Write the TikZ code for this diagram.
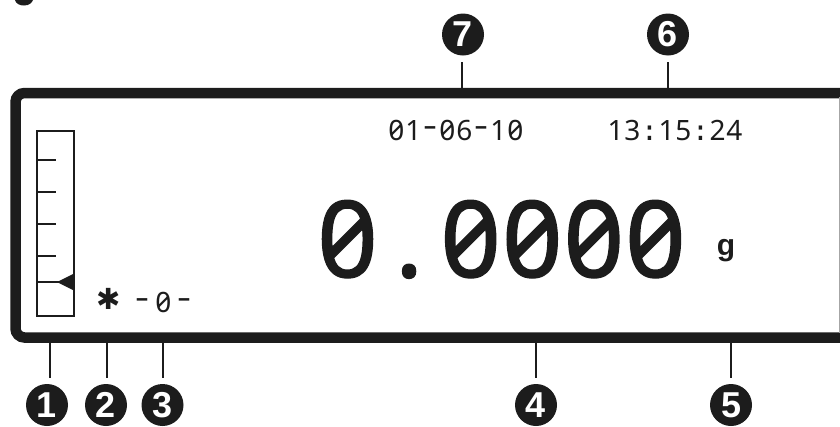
\documentclass[tikz,border=0pt]{standalone}
\usepackage{graphicx}
\usepackage{fontspec}
\setsansfont{Liberation Sans}
\newfontfamily\lcdfont[RawFeature=+zero]{Noto Sans}
\newfontfamily\lcdboldfont[RawFeature=+zero,FakeBold=1.2]{Noto Sans}
\newfontfamily\monofont{DejaVu Sans Mono}
\newfontfamily\symbfont{DejaVu Sans}
\definecolor{ink}{HTML}{1C1C1C}
\newlength\cellw
\def\lcd#1{\lcdi#1\relax}
\def\lcdi#1{\ifx#1\relax\else\lcdcell{#1}\expandafter\lcdi\fi}
\def\lcdcell#1{\makebox[\cellw][c]{\if#1-\raisebox{0.11em}{\scalebox{1.55}[1.15]{-}}\else\if#1:\monofont:\else#1\fi\fi}}
\newcommand\calloutfont{\sffamily\bfseries\fontsize{36}{36}\selectfont}
\newcommand\biglcd{\lcdboldfont\fontsize{106}{106}\selectfont\setlength\cellw{61.6pt}}
\newcommand\smalllcd{\lcdfont\fontsize{28}{28}\selectfont\setlength\cellw{17pt}}
\newcommand\flaglcd{\lcdfont\fontsize{28}{28}\selectfont\setlength\cellw{21pt}}
\begin{document}
\begin{tikzpicture}[x=1pt,y=-1pt,
  callout/.style={circle, fill=ink, text=white, minimum size=42pt, inner sep=0pt, font=\calloutfont},
  lead/.style={draw=ink, line width=2pt, shorten >=6pt},
  frameline/.style={draw=ink, line width=10.5pt},
  gauge/.style={draw=ink, line width=2pt},
  lcd/.style={text=ink, inner sep=0pt, anchor=base}]
\useasboundingbox (0,0) rectangle (840,426);
% cut-off fragment at top left
\fill[ink] (15,0) .. controls (16,4) and (20,5.5) .. (24,5.5) .. controls (29,5.5) and (32,3) .. (33,0) -- cycle;
% display frame
\draw[frameline, rounded corners=9pt] (850,93) -- (15.5,93) -- (15.5,337.5) -- (850,337.5);
\draw[gray!70, line width=1pt] (839,97) -- (839,333);
% bar graph
\draw[gauge] (37,131) rectangle (74,316);
\foreach \yy in {160,192,224,256} \draw[gauge] (37,\yy) -- (56,\yy);
\draw[gauge] (37,282) -- (60,282);
\fill[ink] (57,282) -- (74,273.5) -- (74,290.5) -- cycle;
% texts
\node[lcd, anchor=center, font=\symbfont\fontsize{29}{29}\selectfont] (star) at (109,298.5) {✱};
\node[lcd, font=\flaglcd] (zero) at (163.3,312) {\lcd{-0-}};
\node[lcd, font=\smalllcd] (date) at (456,140) {\lcd{01-06-10}};
\node[lcd, font=\smalllcd] (time) at (675,140) {\lcd{13:15:24}};
\node[lcd, font=\biglcd] (weight) at (501.5,277) {\lcd{0.0000}};
\node[lcd, font=\sffamily\bfseries\fontsize{30}{30}\selectfont] (unit) at (726,255) {g};
% callouts
\node[callout] (c1) at (47,405) {1};
\node[callout] (c2) at (106,405) {2};
\node[callout] (c3) at (162.5,405) {3};
\node[callout] (c4) at (536,405) {4};
\node[callout] (c5) at (731,405) {5};
\node[callout] (c6) at (668,34.5) {6};
\node[callout] (c7) at (463,34.5) {7};
\coordinate (f1) at (50,343);
\coordinate (f2) at (107,343);
\coordinate (f3) at (163,343);
\coordinate (f4) at (536,343);
\coordinate (f5) at (731,343);
\coordinate (f6) at (668,88);
\coordinate (f7) at (462,88);
\foreach \k in {1,2,3,4,5} \draw[lead] (f\k) -- (f\k |- c\k.north);
\foreach \k in {6,7} \draw[lead] (f\k) -- (f\k |- c\k.south);
\end{tikzpicture}
\end{document}
